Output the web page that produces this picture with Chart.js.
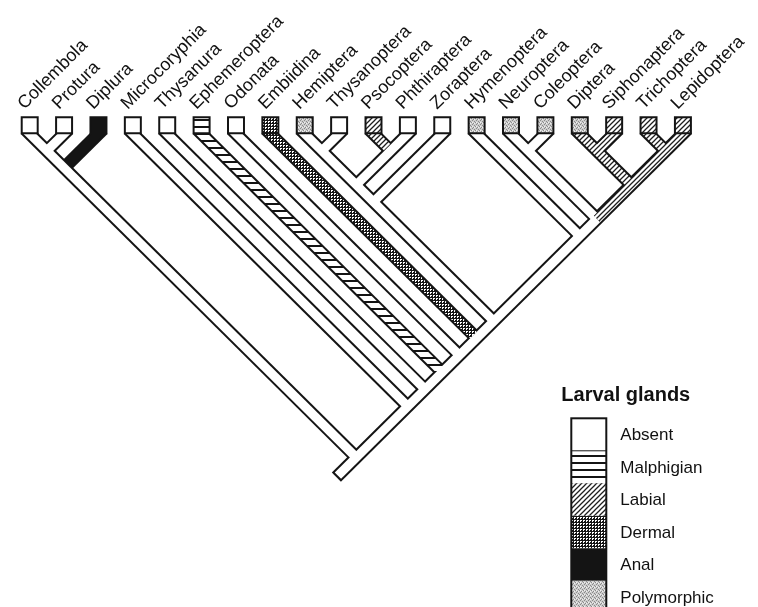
<!DOCTYPE html>
<html>
<head>
<meta charset="utf-8">
<script src="https://cdn.jsdelivr.net/npm/chart.js@4.4.1/dist/chart.umd.min.js"></script>
<style>
  html, body { margin: 0; padding: 0; background: #fff; }
  #wrap { width: 758px; height: 607px; }
</style>
</head>
<body>
<div id="wrap"><canvas id="chart" width="758" height="607"></canvas></div>
<script>
// terminal taxa, left to right
const taxa = ['Collembola', 'Protura', 'Diplura', 'Microcoryphia', 'Thysanura', 'Ephemeroptera',
  'Odonata', 'Embiidina', 'Hemiptera', 'Thysanoptera', 'Psocoptera', 'Phthiraptera', 'Zoraptera',
  'Hymenoptera', 'Neuroptera', 'Coleoptera', 'Diptera', 'Siphonaptera', 'Trichoptera', 'Lepidoptera'];
// larval gland state shown in each terminal box
const tipState = ['absent', 'absent', 'anal', 'absent', 'absent', 'malphigian',
  'absent', 'dermal', 'polymorphic', 'absent', 'labial', 'absent', 'absent',
  'polymorphic', 'polymorphic', 'polymorphic', 'polymorphic', 'labial', 'labial', 'labial'];
// the lineage line each taxon's branch runs into (-1 = the root)
const joinsLineOf = [19, 0, 0, 19, 19, 19, 19, 19, 19, 8, 11, 8, 8, 19, 19, 14, 19, 16, 19, -1];
// state along each branch: [state, up to the node where that taxon joins (null = branch end)]
const branchStates = [
  [['absent', null]], [['absent', null]], [['anal', null]], [['absent', null]], [['absent', null]],
  [['malphigian', null]], [['absent', null]], [['dermal', null]], [['absent', null]], [['absent', null]],
  [['labial', null]], [['absent', null]], [['absent', null]], [['absent', null]], [['absent', null]],
  [['absent', null]], [['labial', null]], [['labial', null]], [['labial', null]],
  [['labial', 14], ['absent', null]]
];
const rootStub = 0.58;
// legend
const legendTitle = 'Larval glands';
const glandKeys = ['absent', 'malphigian', 'labial', 'dermal', 'anal', 'polymorphic'];
const glandNames = ['Absent', 'Malphigian', 'Labial', 'Dermal', 'Anal', 'Polymorphic'];

const canvas = document.getElementById('chart');
const ctx = canvas.getContext('2d');

function tile(w, h, draw) {
  const c = document.createElement('canvas');
  c.width = w; c.height = h;
  const g = c.getContext('2d');
  g.fillStyle = '#fff';
  g.fillRect(0, 0, w, h);
  draw(g);
  return ctx.createPattern(c, 'repeat');
}

const fills = {
  absent: '#ffffff',
  anal: '#141414',
  malphigian: tile(8, 7, g => { g.fillStyle = '#141414'; g.fillRect(0, 0, 8, 2); }),
  labial: tile(5, 5, g => {
    g.strokeStyle = '#1e1e1e'; g.lineWidth = 1.25;
    g.beginPath();
    g.moveTo(0, 5); g.lineTo(5, 0);
    g.moveTo(-1, 1); g.lineTo(1, -1);
    g.moveTo(4, 6); g.lineTo(6, 4);
    g.stroke();
  }),
  dermal: tile(3, 3, g => {
    g.fillStyle = '#161616';
    g.fillRect(0, 0, 3, 1); g.fillRect(0, 0, 1, 3); g.fillRect(2, 2, 1, 1);
  }),
  polymorphic: tile(4, 4, g => {
    g.fillStyle = '#cdcdcd'; g.fillRect(0, 0, 4, 4);
    g.fillStyle = '#8a8a8a';
    g.fillRect(0, 0, 1, 1); g.fillRect(2, 1, 1, 1); g.fillRect(1, 3, 1, 1); g.fillRect(3, 2, 1, 1);
    g.fillStyle = '#f0f0f0';
    g.fillRect(2, 3, 1, 1); g.fillRect(0, 2, 1, 1);
  })
};

// geometry of the cladogram: every branch runs at 45 degrees,
// a branch from tip i meeting the line of tip j does so at x=(i+j)/2, depth=|i-j|/2
const rootDepth = (taxa.length - 1) / 2;
const startDepth = -0.13;
const boxDepth = -0.253;

function level(i) {
  return joinsLineOf[i] < 0 ? 0 : 1 + level(joinsLineOf[i]);
}
function nodeDepth(i, j) {
  return Math.abs(j - i) / 2;
}

const outlineSets = [];
const fillSets = [];
taxa.forEach((name, i) => {
  const j = joinsLineOf[i];
  const sgn = j > i ? 1 : -1;
  const endDepth = j < 0 ? rootDepth + rootStub : nodeDepth(i, j);
  const at = d => ({ x: i + sgn * d, y: d });
  outlineSets.push({
    data: [at(startDepth), at(endDepth)],
    borderColor: '#141414', borderWidth: 13, order: 20 + level(i)
  });
  let from = startDepth;
  branchStates[i].forEach(([state, until]) => {
    let to = until === null ? endDepth : nodeDepth(i, until);
    if (until === null && j < 0) to -= 0.045; // closed free end of the root stub
    fillSets.push({
      data: [at(from), at(to)],
      borderColor: fills[state], borderWidth: 9, order: 10 + level(i)
    });
    from = to;
  });
});

const boxSet = {
  data: taxa.map((t, i) => ({ x: i, y: boxDepth })),
  showLine: false,
  pointStyle: 'rect',
  pointRadius: 11.3,
  pointBackgroundColor: tipState.map(s => fills[s]),
  pointBorderColor: '#141414',
  pointBorderWidth: 2,
  order: 0
};

const taxonLabels = {
  id: 'taxonLabels',
  afterDatasetsDraw(chart) {
    const { ctx, scales: { x, y } } = chart;
    ctx.save();
    ctx.font = '18px "Liberation Sans", Arial, sans-serif';
    ctx.fillStyle = '#111';
    taxa.forEach((name, i) => {
      ctx.save();
      ctx.translate(x.getPixelForValue(i - 0.15), y.getPixelForValue(-0.7));
      ctx.rotate(-Math.PI / 4);
      ctx.fillText(name, 0, 0);
      ctx.restore();
    });
    ctx.restore();
  }
};

const glandLegend = {
  id: 'glandLegend',
  afterDraw(chart) {
    const { ctx, chartArea } = chart;
    const left = chartArea.left + 558, top = chartArea.top + 405;
    const w = 35, h = 32.5;
    ctx.save();
    ctx.fillStyle = '#111';
    ctx.font = 'bold 20px "Liberation Sans", Arial, sans-serif';
    ctx.textBaseline = 'middle';
    ctx.fillText(legendTitle, left - 10, top - 23);
    ctx.font = '17px "Liberation Sans", Arial, sans-serif';
    glandKeys.forEach((k, n) => {
      ctx.fillStyle = fills[k];
      ctx.fillRect(left, top + n * h, w, h);
      ctx.fillStyle = '#111';
      ctx.fillText(glandNames[n], left + 49, top + n * h + h / 2 + 1);
    });
    ctx.strokeStyle = '#141414';
    ctx.lineWidth = 1;
    ctx.beginPath();
    ctx.moveTo(left, top + h); ctx.lineTo(left + w, top + h);
    ctx.stroke();
    ctx.lineWidth = 2;
    ctx.strokeRect(left, top, w, h * glandKeys.length);
    ctx.restore();
  }
};

const unit = 35.63;
new Chart(ctx, {
  type: 'line',
  data: { datasets: [boxSet, ...fillSets, ...outlineSets] },
  options: {
    responsive: false,
    animation: false,
    events: [],
    layout: { padding: 0 },
    elements: {
      line: { tension: 0, borderCapStyle: 'butt', borderJoinStyle: 'miter', fill: false },
      point: { radius: 0, hoverRadius: 0 }
    },
    plugins: { legend: { display: false }, tooltip: { enabled: false } },
    scales: {
      x: { type: 'linear', display: false, min: -17 / unit, max: (758 - 17) / unit },
      y: { type: 'linear', display: false, reverse: true, min: -126 / unit, max: (607 - 126) / unit }
    }
  },
  plugins: [taxonLabels, glandLegend]
});
</script>
</body>
</html>
